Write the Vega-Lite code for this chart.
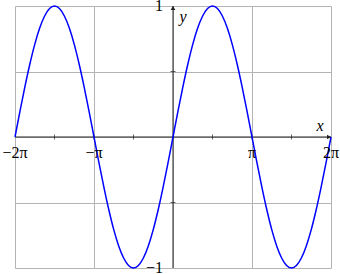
{
  "$schema": "https://vega.github.io/schema/vega-lite/v6.json",
  "width": 316,
  "height": 262,
  "autosize": {"type": "none"},
  "padding": {"left": 15, "top": 6, "right": 9, "bottom": 6},
  "background": "white",
  "config": {"view": {"stroke": null}},
  "datasets": {
    "sine": [
      {"x": -2, "y": 0}, {"x": -1.9375, "y": 0.19509}, {"x": -1.875, "y": 0.38268}, {"x": -1.8125, "y": 0.55557},
      {"x": -1.75, "y": 0.70711}, {"x": -1.6875, "y": 0.83147}, {"x": -1.625, "y": 0.92388}, {"x": -1.5625, "y": 0.98079},
      {"x": -1.5, "y": 1}, {"x": -1.4375, "y": 0.98079}, {"x": -1.375, "y": 0.92388}, {"x": -1.3125, "y": 0.83147},
      {"x": -1.25, "y": 0.70711}, {"x": -1.1875, "y": 0.55557}, {"x": -1.125, "y": 0.38268}, {"x": -1.0625, "y": 0.19509},
      {"x": -1, "y": 0}, {"x": -0.9375, "y": -0.19509}, {"x": -0.875, "y": -0.38268}, {"x": -0.8125, "y": -0.55557},
      {"x": -0.75, "y": -0.70711}, {"x": -0.6875, "y": -0.83147}, {"x": -0.625, "y": -0.92388}, {"x": -0.5625, "y": -0.98079},
      {"x": -0.5, "y": -1}, {"x": -0.4375, "y": -0.98079}, {"x": -0.375, "y": -0.92388}, {"x": -0.3125, "y": -0.83147},
      {"x": -0.25, "y": -0.70711}, {"x": -0.1875, "y": -0.55557}, {"x": -0.125, "y": -0.38268}, {"x": -0.0625, "y": -0.19509},
      {"x": 0, "y": 0}, {"x": 0.0625, "y": 0.19509}, {"x": 0.125, "y": 0.38268}, {"x": 0.1875, "y": 0.55557},
      {"x": 0.25, "y": 0.70711}, {"x": 0.3125, "y": 0.83147}, {"x": 0.375, "y": 0.92388}, {"x": 0.4375, "y": 0.98079},
      {"x": 0.5, "y": 1}, {"x": 0.5625, "y": 0.98079}, {"x": 0.625, "y": 0.92388}, {"x": 0.6875, "y": 0.83147},
      {"x": 0.75, "y": 0.70711}, {"x": 0.8125, "y": 0.55557}, {"x": 0.875, "y": 0.38268}, {"x": 0.9375, "y": 0.19509},
      {"x": 1, "y": 0}, {"x": 1.0625, "y": -0.19509}, {"x": 1.125, "y": -0.38268}, {"x": 1.1875, "y": -0.55557},
      {"x": 1.25, "y": -0.70711}, {"x": 1.3125, "y": -0.83147}, {"x": 1.375, "y": -0.92388}, {"x": 1.4375, "y": -0.98079},
      {"x": 1.5, "y": -1}, {"x": 1.5625, "y": -0.98079}, {"x": 1.625, "y": -0.92388}, {"x": 1.6875, "y": -0.83147},
      {"x": 1.75, "y": -0.70711}, {"x": 1.8125, "y": -0.55557}, {"x": 1.875, "y": -0.38268}, {"x": 1.9375, "y": -0.19509},
      {"x": 2, "y": 0}
    ],
    "axes": [
      {"x1": -2, "x2": 2, "y1": 0, "y2": 0},
      {"x1": 0, "x2": 0, "y1": -1, "y2": 1}
    ],
    "xticks": [{"x": -1.5}, {"x": -1}, {"x": -0.5}, {"x": 0.5}, {"x": 1}, {"x": 1.5}],
    "yticks": [{"y": -0.5}, {"y": 0.5}],
    "xlabels": [
      {"x": -2, "label": "−2π"}, {"x": -1, "label": "−π"}, {"x": 1, "label": "π"}, {"x": 2, "label": "2π"}
    ],
    "ylabels": [{"y": 1, "label": "1"}, {"y": -1, "label": "−1"}]
  },
  "encoding": {},
  "layer": [
    {
      "data": {"name": "axes"},
      "mark": {"type": "rule", "color": "#222222", "strokeWidth": 1},
      "encoding": {
        "x": {"field": "x1", "type": "quantitative",
          "scale": {"domain": [-2, 2], "nice": false, "zero": false},
          "axis": {"grid": true, "values": [-2, -1.5, -1, -0.5, 0, 0.5, 1, 1.5, 2], "gridColor": "#b4b4b4", "gridOpacity": 1, "gridWidth": 1, "domain": false, "ticks": false, "labels": false, "title": null}},
        "x2": {"field": "x2"},
        "y": {"field": "y1", "type": "quantitative",
          "scale": {"domain": [-1, 1], "nice": false, "zero": false},
          "axis": {"grid": true, "values": [-1, -0.5, 0, 0.5, 1], "gridColor": "#b4b4b4", "gridOpacity": 1, "gridWidth": 1, "domain": false, "ticks": false, "labels": false, "title": null}},
        "y2": {"field": "y2"}
      }
    },
    {
      "data": {"name": "xticks"},
      "mark": {"type": "tick", "orient": "vertical", "size": 5, "thickness": 1, "color": "#222222"},
      "encoding": {
        "x": {"field": "x", "type": "quantitative"},
        "y": {"datum": 0, "type": "quantitative"}
      }
    },
    {
      "data": {"name": "yticks"},
      "mark": {"type": "tick", "orient": "horizontal", "size": 5, "thickness": 1, "color": "#222222"},
      "encoding": {
        "x": {"datum": 0, "type": "quantitative"},
        "y": {"field": "y", "type": "quantitative"}
      }
    },
    {
      "data": {"name": "sine"},
      "mark": {"type": "line", "color": "#0000ff", "strokeWidth": 1.5, "interpolate": "monotone"},
      "encoding": {
        "x": {"field": "x", "type": "quantitative"},
        "y": {"field": "y", "type": "quantitative"}
      }
    },
    {
      "data": {"values": [{}]},
      "mark": {"type": "point", "shape": "triangle-right", "filled": true, "color": "#222222", "size": 22, "opacity": 1, "xOffset": -2},
      "encoding": {
        "x": {"datum": 2, "type": "quantitative"},
        "y": {"datum": 0, "type": "quantitative"}
      }
    },
    {
      "data": {"values": [{}]},
      "mark": {"type": "point", "shape": "triangle-up", "filled": true, "color": "#222222", "size": 22, "opacity": 1, "yOffset": 2},
      "encoding": {
        "x": {"datum": 0, "type": "quantitative"},
        "y": {"datum": 1, "type": "quantitative"}
      }
    },
    {
      "data": {"name": "xlabels"},
      "mark": {"type": "text", "font": "Liberation Serif", "fontSize": 16, "color": "black", "baseline": "middle", "align": "center", "dy": 16},
      "encoding": {
        "x": {"field": "x", "type": "quantitative"},
        "y": {"datum": 0, "type": "quantitative"},
        "text": {"field": "label"}
      }
    },
    {
      "data": {"name": "ylabels"},
      "mark": {"type": "text", "font": "Liberation Serif", "fontSize": 16, "color": "black", "baseline": "middle", "align": "right", "dx": -10},
      "encoding": {
        "x": {"datum": 0, "type": "quantitative"},
        "y": {"field": "y", "type": "quantitative"},
        "text": {"field": "label"}
      }
    },
    {
      "data": {"values": [{"label": "x"}]},
      "mark": {"type": "text", "font": "Liberation Serif", "fontStyle": "italic", "fontSize": 16, "color": "black", "baseline": "middle", "align": "center", "dx": -11, "dy": -11},
      "encoding": {
        "x": {"datum": 2, "type": "quantitative"},
        "y": {"datum": 0, "type": "quantitative"},
        "text": {"field": "label"}
      }
    },
    {
      "data": {"values": [{"label": "y"}]},
      "mark": {"type": "text", "font": "Liberation Serif", "fontStyle": "italic", "fontSize": 16, "color": "black", "baseline": "middle", "align": "center", "dx": 10, "dy": 11},
      "encoding": {
        "x": {"datum": 0, "type": "quantitative"},
        "y": {"datum": 1, "type": "quantitative"},
        "text": {"field": "label"}
      }
    }
  ]
}
